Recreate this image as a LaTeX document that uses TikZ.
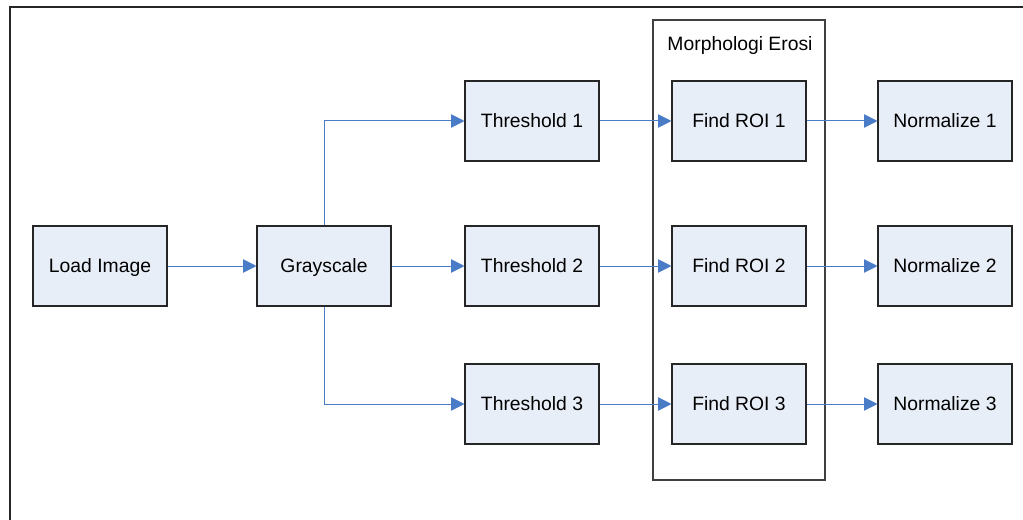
\documentclass[tikz,border=0pt]{standalone}
\usepackage{fontspec}
\setmainfont{Liberation Sans}
\usetikzlibrary{arrows.meta}
\definecolor{boxfill}{HTML}{E8EEF8}
\definecolor{arrowblue}{HTML}{4A7BC6}
\definecolor{framegray}{HTML}{404040}
\begin{document}
\begin{tikzpicture}[x=0.75pt,y=-0.75pt,
  stepbox/.style={draw=black!85,line width=0.8pt,fill=boxfill,
    minimum width=100.5pt,minimum height=60pt,inner sep=0pt,
    text height=10.4pt,text depth=0pt,
    font=\fontsize{14.5}{17}\selectfont},
  flow/.style={draw=arrowblue,line width=0.75pt,
    -{Triangle[length=10pt,width=10pt]}}]
\useasboundingbox (0,0) rectangle (1023,520);
% outer frame (top and left edges)
\draw[line width=1.5pt,black!85] (10,520) -- (10,7.5) -- (1023,7.5);
% stage group
\node[draw=framegray,line width=0.8pt,minimum width=129pt,minimum height=345pt,inner sep=0pt] (grp) at (739,250) {};
\node[font=\fontsize{14.5}{17}\selectfont,anchor=center] (grplabel) at (740,46) {Morphologi Erosi};
% boxes
\node[stepbox] (load) at (100,266) {Load Image};
\node[stepbox] (gray) at (324,266) {Grayscale};
\node[stepbox] (t1) at (532,121) {Threshold 1};
\node[stepbox] (t2) at (532,266) {Threshold 2};
\node[stepbox] (t3) at (532,404) {Threshold 3};
\node[stepbox] (f1) at (739,121) {Find ROI 1};
\node[stepbox] (f2) at (739,266) {Find ROI 2};
\node[stepbox] (f3) at (739,404) {Find ROI 3};
\node[stepbox] (n1) at (945,121) {Normalize 1};
\node[stepbox] (n2) at (945,266) {Normalize 2};
\node[stepbox] (n3) at (945,404) {Normalize 3};
% connectors
\draw[flow] (load) -- (gray);
\draw[flow] (gray.north) |- (t1.west);
\draw[flow] (gray) -- (t2);
\draw[flow] (gray.south) |- (t3.west);
\draw[flow] (t1) -- (f1);
\draw[flow] (t2) -- (f2);
\draw[flow] (t3) -- (f3);
\draw[flow] (f1) -- (n1);
\draw[flow] (f2) -- (n2);
\draw[flow] (f3) -- (n3);
\end{tikzpicture}
\end{document}
